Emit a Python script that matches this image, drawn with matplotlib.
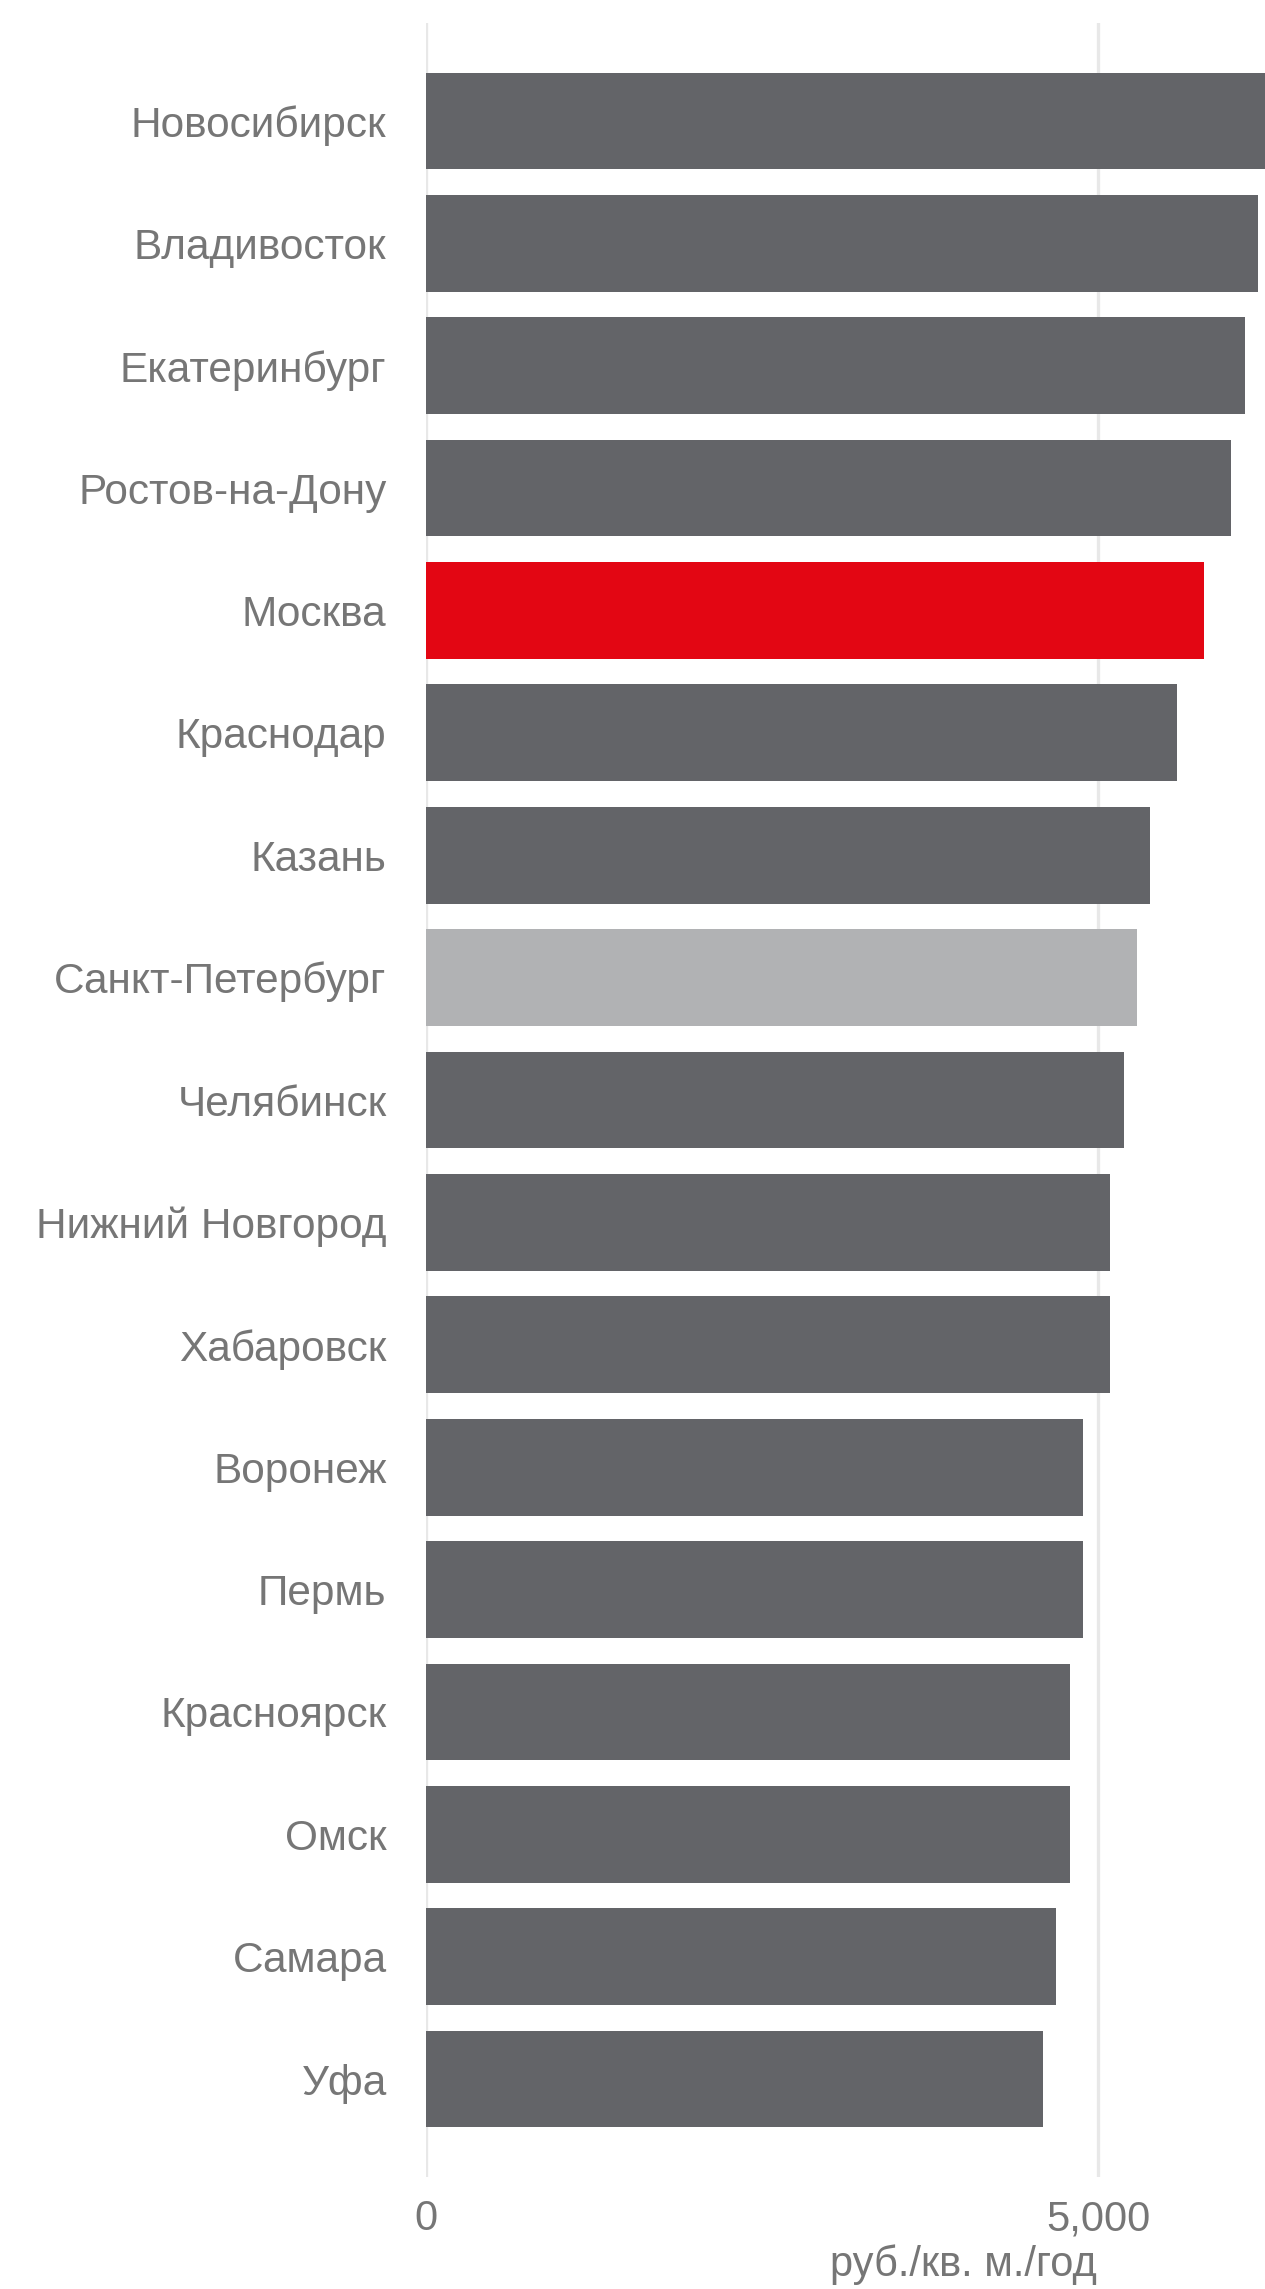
import matplotlib.pyplot as plt
import numpy as np

plt.rcParams['font.family'] = ['Liberation Sans', 'DejaVu Sans']

cities = ['Новосибирск', 'Владивосток', 'Екатеринбург', 'Ростов-на-Дону', 'Москва',
          'Краснодар', 'Казань', 'Санкт-Петербург', 'Челябинск', 'Нижний Новгород',
          'Хабаровск', 'Воронеж', 'Пермь', 'Красноярск', 'Омск', 'Самара', 'Уфа']
rent = [6290, 6190, 6090, 5990, 5790, 5590, 5390, 5290, 5190, 5090,
        5090, 4890, 4890, 4790, 4790, 4690, 4590]

DARK = '#636468'
RED = '#E30613'
LIGHT = '#B1B2B4'
TEXT = '#767676'

colors = [DARK] * len(cities)
colors[cities.index('Москва')] = RED
colors[cities.index('Санкт-Петербург')] = LIGHT

W, H = 1265, 2289
fig = plt.figure(figsize=(W / 100, H / 100), dpi=100)
# plot area runs past the right edge of the image on purpose
left, right = 425.5, 1501.5
top, bottom = 23, 2177
ax = fig.add_axes([left / W, 1 - bottom / H, (right - left) / W, (bottom - top) / H])

y = np.arange(len(cities))
ax.barh(y, rent, height=0.79, color=colors, zorder=2)

ax.set_xlim(0, 8000)
ax.set_ylim(16.8, -0.8)
ax.set_xticks([0, 5000])
ax.set_xticklabels(['0', '5,000'])
ax.set_yticks(y)
ax.set_yticklabels(cities)
ax.grid(axis='x', color='#E8E8E8', linewidth=2.4, zorder=0)
ax.grid(axis='y', visible=False)
for s in ax.spines.values():
    s.set_visible(False)
ax.tick_params(axis='y', length=0, pad=28, labelsize=30.5, labelcolor=TEXT)
ax.tick_params(axis='x', length=0, pad=16, labelsize=30, labelcolor=TEXT)
ax.set_xlabel('руб./кв. м./год', fontsize=30, color=TEXT, labelpad=4)

fig.savefig('out.png', dpi=100)
